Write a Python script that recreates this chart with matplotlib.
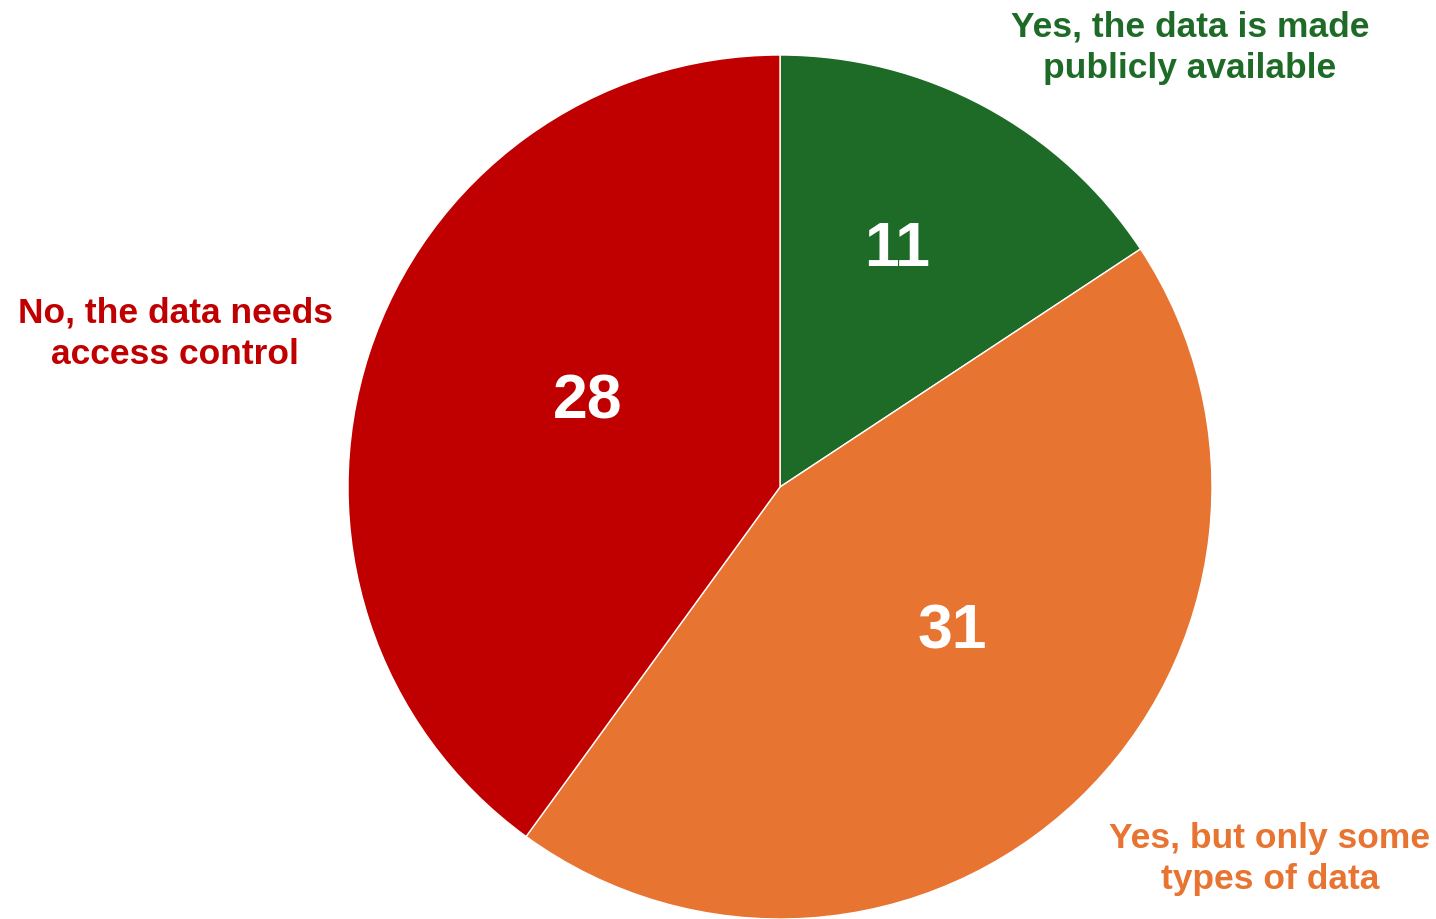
import matplotlib.pyplot as plt

plt.rcParams['font.family'] = ['Liberation Sans', 'DejaVu Sans']

# survey answers, clockwise from the top
labels = ["Yes, the data is made\npublicly available",
          "Yes, but only some\ntypes of data",
          "No, the data needs\naccess control"]
counts = [11, 31, 28]
colors = ["#1E6B28", "#E87432", "#C00000"]

fig = plt.figure(figsize=(14.36, 9.19), dpi=100)
ax = fig.add_axes([0, 0, 1, 1])

wedges, texts = ax.pie(counts, colors=colors, startangle=90, counterclock=False,
                       center=(780, 432), radius=432,
                       wedgeprops=dict(edgecolor='white', linewidth=1))

# pie() sets its own limits, so set the pixel frame afterwards
ax.set_xlim(0, 1436)
ax.set_ylim(0, 919)
ax.set_aspect('equal')
ax.axis('off')

# value inside each slice
value_pos = [(897, 919 - 249), (952, 919 - 632), (588, 919 - 402)]
for (x, y), n in zip(value_pos, counts):
    ax.text(x, y, str(n), color='white', fontsize=45, fontweight='bold',
            ha='center', va='center')

# category labels outside the pie
label_pos = [(1190, 919 - 48), (1270, 919 - 859), (175, 919 - 334)]
for (x, y), lab, c in zip(label_pos, labels, colors):
    ax.text(x, y, lab, color=c, fontsize=25.5, fontweight='bold',
            ha='center', va='center', linespacing=1.33)

fig.savefig("out.png", dpi=100, facecolor='white')
